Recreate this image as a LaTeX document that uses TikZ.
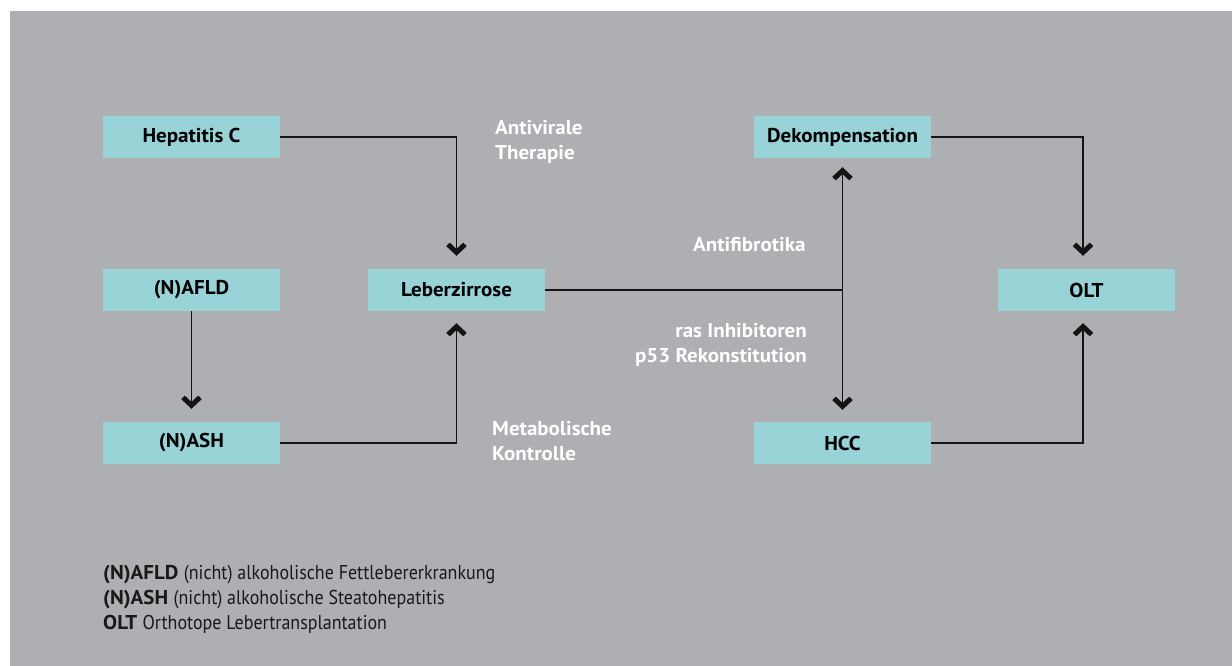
\documentclass[tikz,border=0pt]{standalone}
\usepackage{fontspec}
\setmainfont{PT Sans}[BoldFeatures={FakeStretch=1.05}]
\newfontfamily\legfont{PT Sans}[FakeStretch=0.9]
\usetikzlibrary{arrows.meta}
\definecolor{bggray}{RGB}{174,175,178}
\definecolor{boxteal}{RGB}{151,211,215}
\definecolor{linedark}{RGB}{20,20,20}
\tikzset{
  box/.style={fill=boxteal, minimum width=177pt, minimum height=42pt, inner sep=0pt,
    font=\fontsize{20}{25}\selectfont\bfseries, text=black},
  lbl/.style={inner sep=0pt, font=\fontsize{20}{25}\selectfont\bfseries, text=white},
  legend/.style={inner sep=0pt, align=left, font=\fontsize{20}{25}\selectfont, text=black!90},
  conn/.style={draw=linedark, line width=1.4pt},
  arr/.style={conn, -{Straight Barb[length=8pt,width=17pt,line width=5pt,line join=miter]}, shorten >=#1},
  arr/.default=13pt
}
\begin{document}
\begin{tikzpicture}[x=1pt,y=-1pt]
\useasboundingbox (0,0) rectangle (1232,666);
\fill[white] (0,0) rectangle (1232,666);
\fill[bggray] (10,11) rectangle (1232,666);

\node[box] (hep) at (191.5,137) {Hepatitis C};
\node[box] (afld) at (191.5,290) {(N)AFLD};
\node[box] (nash) at (191.5,443) {(N)ASH};
\node[box] (leber) at (456.5,290) {Leberzirrose};
\node[box] (dekomp) at (842.5,137) {Dekompensation};
\node[box] (hcc) at (842.5,443) {HCC};
\node[box] (olt) at (1086.5,290) {OLT};

\node[lbl, align=left, anchor=west] (antiv) at (495,142) {Antivirale\\Therapie};
\node[lbl, anchor=west] (antif) at (693,245) {Antifibrotika};
\node[lbl, align=right, anchor=east] (ras) at (807,345) {ras Inhibitoren\\p53 Rekonstitution};
\node[lbl, align=left, anchor=west] (meta) at (492,441.5) {Metabolische\\Kontrolle};

\node[legend, anchor=west] (leg) at (103,599) {\textbf{(N)AFLD} {\legfont (nicht) alkoholische Fettlebererkrankung}\\
\textbf{(N)ASH} {\legfont (nicht) alkoholische Steatohepatitis}\\
\textbf{OLT} {\legfont Orthotope Lebertransplantation}};

% connectors
\draw[arr] (hep.east) -| (leber.north);
\draw[arr] (afld.south) -- (nash.north);
\draw[arr=12pt] (nash.east) -| (leber.south);
\coordinate (j) at (leber.east -| dekomp.south);
\draw[conn] (leber.east) -- (j);
\draw[arr=9pt] (j) -- (dekomp.south);
\draw[arr=12pt] (j) -- (hcc.north);
\coordinate (oltin) at ([xshift=-3.5pt]olt.north);
\coordinate (oltout) at ([xshift=-3.5pt]olt.south);
\draw[arr] (dekomp.east) -| (oltin);
\draw[arr=12pt] (hcc.east) -| (oltout);
\end{tikzpicture}
\end{document}
